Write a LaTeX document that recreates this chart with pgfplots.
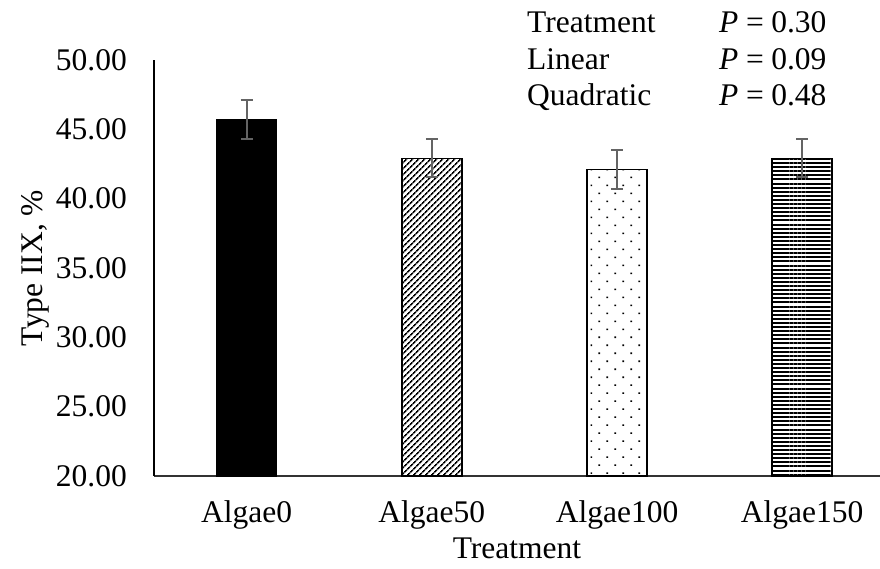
\documentclass[border=0pt]{standalone}
\usepackage{pgfplots}
\pgfplotsset{compat=1.18}
\usepackage{fontspec}
\setmainfont{Liberation Serif}
\usetikzlibrary{patterns.meta}
\newcommand\bigf{\fontsize{31.5}{37}\selectfont}
\newcommand\eqs{\hspace{0.24em}=\hspace{0.24em}}
\definecolor{errgray}{RGB}{100,100,100}
\begin{document}
\begin{tikzpicture}[font=\bigf]
\useasboundingbox (-154pt,-93pt) rectangle (726pt,476pt);
\begin{axis}[
  at={(0pt,0pt)}, anchor=south west,
  scale only axis, width=726pt, height=416pt,
  xmin=-0.5, xmax=3.42, ymin=20, ymax=50,
  axis x line=bottom, axis y line=left,
  axis line style={-, line width=1.3pt},
  x axis line style={black!80},
  xtick={0,1,2,3}, xticklabels={Algae0,Algae50,Algae100,Algae150},
  ytick={20,25,30,35,40,45,50},
  major tick length=0pt,
  /pgf/number format/assume math mode=true,
  /pgf/number format/.cd, fixed, fixed zerofill, precision=2, /tikz/.cd,
  ticklabel style={font=\bigf},
  yticklabel style={anchor=east, inner sep=0pt, xshift=-27pt},
  xticklabel style={anchor=center, inner sep=0pt, yshift=-39pt},
  clip=false,
  ybar, bar width=60pt, bar shift=0pt,
  every axis plot/.append style={draw=black, line width=1.6pt},
  error bars/y dir=both, error bars/y explicit,
  error bars/error bar style={errgray, line width=2pt},
  error bars/error mark options={errgray, rotate=90, mark size=6pt, line width=2pt},
]
\addplot[fill=black, draw=black] coordinates {(0,45.70) +- (0,1.40)};
\addplot[draw=black, pattern={Lines[angle=45, distance=4pt, line width=1.7pt]}] coordinates {(1,42.91) +- (0,1.38)};
\addplot[draw=black, pattern={Dots[angle=45, distance=11.3pt, radius=1.1pt]}] coordinates {(2,42.11) +- (0,1.38)};
\addplot[draw=black, pattern={Lines[angle=0, distance=4.1pt, line width=2pt]}] coordinates {(3,42.91) +- (0,1.38)};
\end{axis}
\node[rotate=90, anchor=center] at (-119pt,208pt) {Type IIX, \%};
\node[anchor=center] at (363pt,-72pt) {Treatment};
\node[anchor=base west, inner sep=0pt] at (373pt,443pt) {Treatment};
\node[anchor=base west, inner sep=0pt] at (373pt,406.5pt) {Linear};
\node[anchor=base west, inner sep=0pt] at (373pt,370pt) {Quadratic};
\node[anchor=base west, inner sep=0pt] at (565pt,443pt) {\textit{P}\eqs0.30};
\node[anchor=base west, inner sep=0pt] at (565pt,406.5pt) {\textit{P}\eqs0.09};
\node[anchor=base west, inner sep=0pt] at (565pt,370pt) {\textit{P}\eqs0.48};
\end{tikzpicture}
\end{document}
